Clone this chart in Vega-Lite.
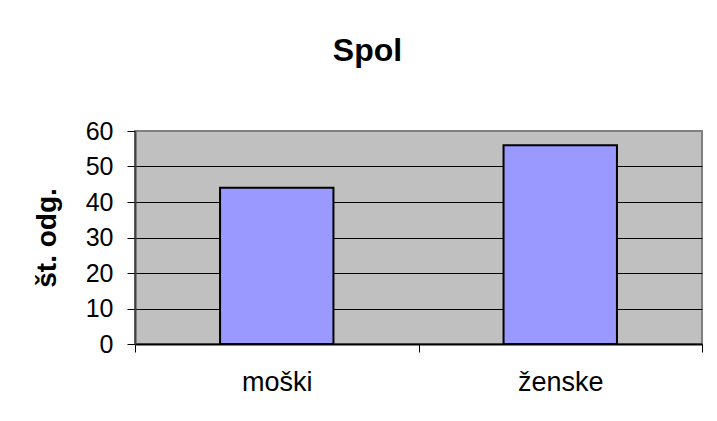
{
  "$schema": "https://vega.github.io/schema/vega-lite/v6.json",
  "width": 567,
  "height": 213,
  "autosize": {"type": "none"},
  "padding": {"left": 135, "top": 131, "right": 15, "bottom": 77},
  "background": "white",
  "title": {
    "text": "Spol",
    "font": "Liberation Sans",
    "fontSize": 32,
    "fontWeight": "bold",
    "color": "black",
    "anchor": "middle",
    "frame": "group",
    "dx": -51,
    "baseline": "alphabetic",
    "offset": 26
  },
  "data": {
    "values": [
      {"spol": "moški", "odg": 44},
      {"spol": "ženske", "odg": 56}
    ]
  },
  "mark": {
    "type": "bar",
    "color": "#9999FF",
    "stroke": "black",
    "strokeWidth": 2,
    "width": {"band": 0.4}
  },
  "encoding": {
    "x": {
      "field": "spol",
      "type": "nominal",
      "sort": null,
      "scale": {"paddingInner": 0, "paddingOuter": 0},
      "axis": {
        "title": null,
        "labelAngle": 0,
        "tickBand": "extent",
        "tickSize": 8,
        "tickColor": "black",
        "domainColor": "black",
        "domainWidth": 2,
        "labelFont": "Liberation Sans",
        "labelFontSize": 27,
        "labelColor": "black",
        "labelPadding": 17,
        "grid": false
      }
    },
    "y": {
      "field": "odg",
      "type": "quantitative",
      "scale": {"domain": [0, 60]},
      "axis": {
        "title": "št. odg.",
        "values": [0, 10, 20, 30, 40, 50, 60],
        "grid": true,
        "gridColor": {"condition": {"test": "datum.value == 60 || datum.value == 0", "value": "#808080"}, "value": "black"},
        "gridWidth": 1,
        "domainColor": "#404040",
        "domainWidth": 2,
        "tickColor": "black",
        "tickSize": 8,
        "labelFont": "Liberation Sans",
        "labelFontSize": 25,
        "labelColor": "black",
        "labelPadding": 14,
        "titleFont": "Liberation Sans",
        "titleFontSize": 28,
        "titleFontWeight": "bold",
        "titleColor": "black",
        "titlePadding": 24
      }
    }
  },
  "config": {
    "view": {"fill": "#C0C0C0", "stroke": "#808080", "strokeWidth": 2}
  }
}
